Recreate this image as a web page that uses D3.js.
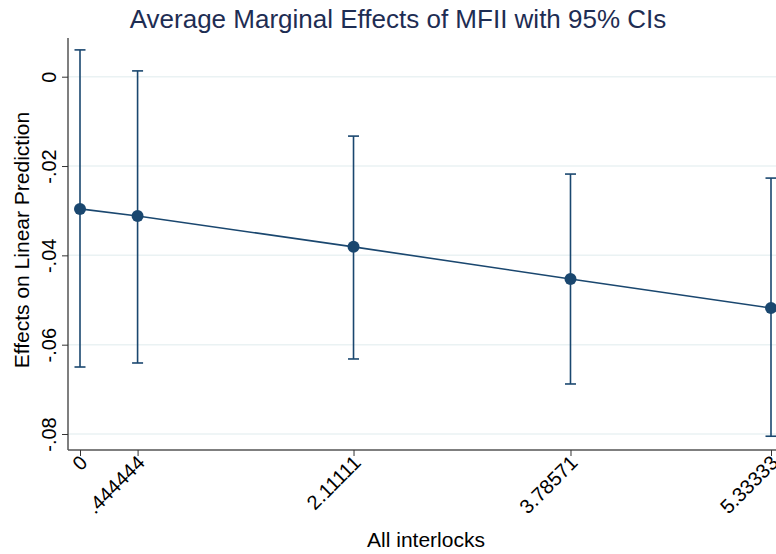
<!DOCTYPE html>
<html><head><meta charset="utf-8">
<script src="https://cdn.jsdelivr.net/npm/d3@7"></script>
<style>body{margin:0;background:#fff}</style>
</head><body>
<svg id="c" width="776" height="554"></svg>
<script>
const xValues = [0, 0.444444, 2.11111, 3.78571, 5.33333];
const xLabels = ["0", ".444444", "2.11111", "3.78571", "5.33333"];
const estimates = [-0.0296, -0.0312, -0.0381, -0.0453, -0.0518];
const ciLower = [-0.0650, -0.0641, -0.0632, -0.0688, -0.0805];
const ciUpper = [0.0060, 0.0013, -0.0133, -0.0218, -0.0227];
const yTicks = [0, -0.02, -0.04, -0.06, -0.08];
const yTickLabels = ["0", "-.02", "-.04", "-.06", "-.08"];

(function () {
const svg = d3.select("#c");
const font = "'Liberation Sans', Arial, sans-serif";
const navy = "#1a476f";

const x = d3.scaleLinear().domain([0, 5.33333]).range([80, 771]);
const y = d3.scaleLinear().domain([0, -0.08]).range([76.7, 434]);
const pLeft = 68, pRight = 776, pTop = 38, pBottom = 450;

// gridlines
svg.append("g").selectAll("line").data(yTicks).join("line")
  .attr("x1", pLeft).attr("x2", pRight)
  .attr("y1", d => y(d)).attr("y2", d => y(d))
  .attr("stroke", "#eaf2f3").attr("stroke-width", 1.5);

// y axis
const yAxis = svg.append("g").attr("transform", `translate(${pLeft},0)`)
  .call(d3.axisLeft(y).tickValues(yTicks).tickFormat((d,i) => yTickLabels[i]).tickSize(6));
yAxis.select(".domain").attr("d", `M0,${pTop}V${pBottom}`).attr("stroke", "#555").attr("stroke-width", 1.5);
yAxis.selectAll(".tick line").attr("stroke", "#333");
yAxis.selectAll(".tick text")
  .attr("font-family", font).attr("font-size", 20).attr("fill", "#000")
  .attr("transform", "rotate(-90)")
  .attr("x", 0).attr("y", -12).attr("dy", 0)
  .attr("text-anchor", "middle");

// x axis
const xAxis = svg.append("g").attr("transform", `translate(0,${pBottom})`)
  .call(d3.axisBottom(x).tickValues(xValues).tickFormat((d,i) => xLabels[i]).tickSize(6));
xAxis.select(".domain").attr("d", `M${pLeft},0H${pRight}`).attr("stroke", "#555").attr("stroke-width", 1.5);
xAxis.selectAll(".tick line").attr("stroke", "#333");
xAxis.selectAll(".tick text")
  .attr("font-family", font).attr("font-size", 20).attr("fill", "#000")
  .attr("y", 0).attr("dy", 0)
  .attr("text-anchor", "end")
  .attr("transform", "translate(8,14) rotate(-45)");

// CIs
const g = svg.append("g");
xValues.forEach((xv, i) => {
  const cx = x(xv);
  g.append("line").attr("x1", cx).attr("x2", cx).attr("y1", y(ciUpper[i])).attr("y2", y(ciLower[i]))
    .attr("stroke", navy).attr("stroke-width", 1.6);
  [ciUpper[i], ciLower[i]].forEach(v => {
    g.append("line").attr("x1", cx - 5.5).attr("x2", cx + 5.5).attr("y1", y(v)).attr("y2", y(v))
      .attr("stroke", navy).attr("stroke-width", 1.6);
  });
});

// line
const line = d3.line().x((d, i) => x(xValues[i])).y(d => y(d));
g.append("path").attr("d", line(estimates)).attr("fill", "none").attr("stroke", navy).attr("stroke-width", 1.6);

g.selectAll("circle").data(estimates).join("circle")
  .attr("cx", (d, i) => x(xValues[i])).attr("cy", d => y(d)).attr("r", 6).attr("fill", navy);

// titles
svg.append("text").attr("x", 398).attr("y", 28).attr("text-anchor", "middle")
  .attr("font-family", font).attr("font-size", 26).attr("fill", "#1e2d53")
  .text("Average Marginal Effects of MFII with 95% CIs");
svg.append("text").attr("x", 426).attr("y", 547).attr("text-anchor", "middle")
  .attr("font-family", font).attr("font-size", 21).attr("fill", "#000")
  .text("All interlocks");
svg.append("text").attr("transform", "translate(29,240) rotate(-90)").attr("text-anchor", "middle")
  .attr("font-family", font).attr("font-size", 21).attr("fill", "#000")
  .text("Effects on Linear Prediction");
})();
</script>
</body></html>
